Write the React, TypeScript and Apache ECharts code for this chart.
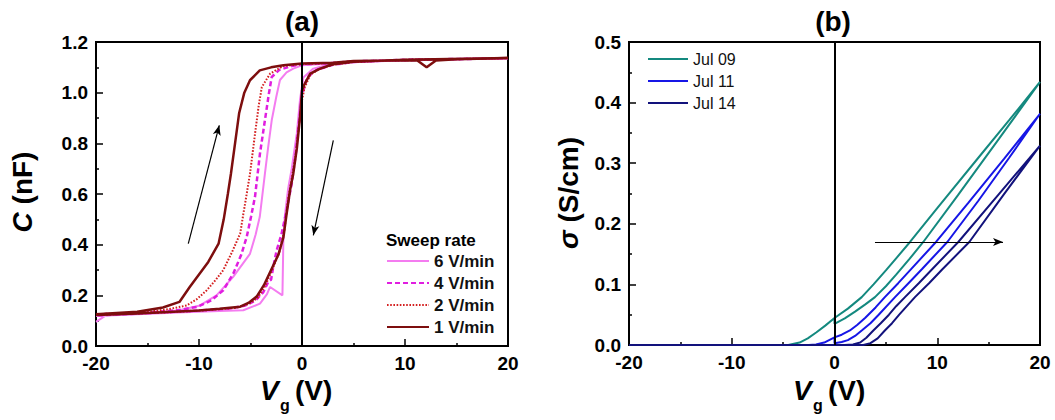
import React, { useEffect, useRef } from "react";
import * as echarts from "echarts";

const FONT = "'Liberation Sans', Arial, Helvetica, sans-serif";

// ---------- Panel (a): capacitance hysteresis ----------
const rateNames = ["6 V/min", "4 V/min", "2 V/min", "1 V/min"];
const rateColors = ["#f47cf0", "#e01ee0", "#d42020", "#7d0e0e"];

const rate6Up = [[-20,0.095],[-19,0.122],[-15,0.13],[-12,0.14],[-9.9,0.16],[-8.3,0.2],[-6.7,0.272],[-5.05,0.364],[-4.5,0.44],[-4.1,0.51],[-3.6,0.68],[-3.3,0.78],[-2.94,0.891],[-2.5,0.983],[-2.14,1.05],[-1.5,1.08],[-0.85,1.095],[0,1.108],[3,1.116],[5,1.123],[10,1.128],[15,1.132],[20,1.136]];
const rate6Down = [[20,1.135],[10,1.128],[5,1.12],[2.5,1.11],[1.1,1.095],[0.13,1.06],[-0.2,0.97],[-0.5,0.84],[-1.0,0.7],[-1.35,0.62],[-1.65,0.52],[-1.8,0.44],[-1.9,0.2],[-3.1,0.233],[-3.4,0.205],[-4.08,0.167],[-5.7,0.141],[-8,0.138],[-12,0.132],[-16,0.125],[-20,0.118]];

const rate4Up = [[-20,0.125],[-15,0.132],[-12,0.142],[-10.2,0.154],[-8.8,0.18],[-7.64,0.22],[-6.67,0.286],[-5.9,0.36],[-5.37,0.43],[-4.95,0.51],[-4.56,0.59],[-4.08,0.76],[-3.6,0.891],[-3.2,1.0],[-2.94,1.062],[-2.2,1.09],[-1,1.105],[0,1.112],[3,1.117],[5,1.124],[10,1.128],[15,1.132],[20,1.136]];
const rate4Down = [[20,1.135],[10,1.13],[5,1.121],[3,1.11],[1.4,1.09],[0.5,1.06],[0,0.99],[-0.3,0.88],[-0.6,0.76],[-1.0,0.64],[-1.49,0.536],[-2.0,0.44],[-2.46,0.378],[-2.8,0.31],[-3.0,0.262],[-3.25,0.255],[-3.75,0.213],[-4.5,0.18],[-5.5,0.16],[-7,0.148],[-10,0.14],[-15,0.13],[-20,0.12]];

const rate2Up = [[-20,0.125],[-15,0.135],[-13,0.145],[-11.2,0.16],[-10.2,0.185],[-9.25,0.22],[-8.4,0.26],[-7.64,0.3],[-6.8,0.37],[-6.0,0.444],[-5.7,0.52],[-5.37,0.6],[-5.05,0.68],[-4.8,0.76],[-4.56,0.838],[-4.2,0.95],[-3.9,1.022],[-3.1,1.075],[-1.84,1.105],[0,1.113],[3,1.117],[5,1.124],[10,1.128],[15,1.132],[20,1.136]];
const rate2Down = [[20,1.135],[10,1.13],[5,1.121],[3,1.11],[1.6,1.092],[0.8,1.07],[0.25,1.02],[0,0.97],[-0.3,0.87],[-0.6,0.76],[-1.0,0.66],[-1.35,0.58],[-1.7,0.46],[-2.2,0.37],[-2.9,0.3],[-3.6,0.235],[-4.3,0.19],[-5.2,0.165],[-6.5,0.15],[-9,0.142],[-13,0.133],[-20,0.122]];

const rate1Up = [[-20,0.125],[-16,0.135],[-13.5,0.152],[-11.9,0.174],[-10.9,0.233],[-9.1,0.332],[-8.1,0.404],[-7.6,0.5],[-7.2,0.6],[-6.9,0.68],[-6.5,0.8],[-6.1,0.92],[-5.6,1.0],[-5.05,1.049],[-4.1,1.088],[-3,1.1],[-1.8,1.108],[0,1.115],[3,1.118],[5,1.125],[10,1.128],[11.2,1.127],[12.1,1.1],[13,1.127],[15,1.132],[20,1.137]];
const rate1Down = [[20,1.135],[10,1.13],[5,1.122],[3,1.112],[1.75,1.095],[0.8,1.075],[0.2,1.03],[0,1.009],[-0.2,0.9],[-0.5,0.78],[-0.85,0.68],[-1.16,0.615],[-1.5,0.52],[-1.8,0.43],[-2.3,0.36],[-3.0,0.3],[-3.7,0.24],[-4.4,0.195],[-5.2,0.17],[-6,0.155],[-8,0.147],[-10,0.14],[-13,0.134],[-16,0.128],[-20,0.122]];

const rateUp = [rate6Up, rate4Up, rate2Up, rate1Up];
const rateDown = [rate6Down, rate4Down, rate2Down, rate1Down];
const rateDash: any[] = ["solid", [5, 3], [1.6, 1.6], "solid"];
const rateWidth = [2, 2.5, 2, 2.5];

const xTicksA = { min: -20, max: 20, interval: 10 };
const yTicksA = { min: 0, max: 1.2, interval: 0.2 };

// ---------- Panel (b): conductivity ----------
const dateNames = ["Jul 09", "Jul 11", "Jul 14"];
const dateColors = ["#14897f", "#1616e6", "#12127c"];

const jul09Up = [[0,0.035],[1,0.044],[2,0.055],[3,0.067],[3.94,0.079],[5,0.097],[6,0.116],[7.3,0.142],[8.64,0.17],[12,0.247],[16,0.34],[20,0.434]];
const jul09Down = [[20,0.434],[17,0.371],[14,0.309],[10,0.226],[7.35,0.17],[6,0.143],[5,0.123],[3.8,0.1],[2.65,0.079],[1.3,0.06],[0,0.0446],[-0.9,0.032],[-1.75,0.021],[-2.6,0.011],[-3.4,0.004],[-4.5,0],[-20,0]];
const jul11Up = [[0,0.003],[0.7,0.005],[1.3,0.008],[2,0.015],[2.65,0.024],[3.5,0.036],[4.3,0.05],[5.89,0.079],[7.2,0.102],[8.5,0.125],[10.98,0.17],[14,0.238],[17,0.309],[20,0.3816]];
const jul11Down = [[20,0.3816],[16.5,0.307],[13,0.234],[9.88,0.17],[7.5,0.126],[6.2,0.102],[4.9,0.079],[4,0.062],[3,0.045],[2.2,0.033],[1.5,0.024],[0.7,0.017],[0,0.0126],[-1,0.004],[-1.8,0.001],[-2.5,0],[-20,0]];
const jul14Up = [[0,0],[2.8,0],[3.5,0.003],[4.2,0.011],[4.9,0.024],[5.6,0.036],[6.3,0.05],[7.83,0.079],[9.2,0.102],[10.5,0.125],[13.12,0.17],[16.5,0.249],[20,0.329]];
const jul14Down = [[20,0.329],[16,0.249],[12.05,0.17],[9.5,0.125],[8.2,0.102],[6.86,0.079],[6,0.064],[5.3,0.05],[4.5,0.036],[3.78,0.024],[3.1,0.012],[2.5,0.004],[1.8,0.001],[1,0],[-20,0]];

const dateUp = [jul09Up, jul11Up, jul14Up];
const dateDown = [jul09Down, jul11Down, jul14Down];

const xTicksB = { min: -20, max: 20, interval: 10 };
const yTicksB = { min: 0, max: 0.5, interval: 0.1 };

// annotation arrows (data coordinates)
const arrowsA = [
  [[-11.04, 0.404], [-8.03, 0.871]],
  [[3.04, 0.812], [1.1, 0.437]],
];
const arrowsB = [[[3.94, 0.17], [16.4, 0.17]]];

function xAxisCfg(gridIndex: number, t: any) {
  return {
    type: "value",
    gridIndex,
    min: t.min,
    max: t.max,
    interval: t.interval,
    axisLine: { show: true, onZero: false, lineStyle: { color: "#000", width: 2 } },
    axisTick: { show: true, inside: true, length: 7, lineStyle: { color: "#000", width: 1.5 } },
    minorTick: { show: true, splitNumber: 2, length: 3, lineStyle: { color: "#000", width: 1.5 } },
    splitLine: { show: false },
    minorSplitLine: { show: false },
    axisLabel: {
      show: true,
      margin: 8,
      color: "#000",
      fontFamily: FONT,
      fontWeight: "bold",
      fontSize: 19,
      showMinLabel: true,
      showMaxLabel: true,
      hideOverlap: false,
    },
  };
}

function yAxisCfg(gridIndex: number, t: any) {
  return {
    type: "value",
    gridIndex,
    min: t.min,
    max: t.max,
    interval: t.interval,
    axisLine: { show: true, onZero: false, lineStyle: { color: "#000", width: 2 } },
    axisTick: { show: true, inside: true, length: 7, lineStyle: { color: "#000", width: 1.5 } },
    minorTick: { show: true, splitNumber: 2, length: 3, lineStyle: { color: "#000", width: 1.5 } },
    splitLine: { show: false },
    minorSplitLine: { show: false },
    axisLabel: {
      show: true,
      margin: 8,
      color: "#000",
      fontFamily: FONT,
      fontWeight: "bold",
      fontSize: 19,
      formatter: (v: number) => v.toFixed(1),
      showMinLabel: true,
      showMaxLabel: true,
    },
  };
}

function arrowLine(xi: number, arrows: number[][][]) {
  return {
    type: "line",
    xAxisIndex: xi,
    yAxisIndex: xi,
    data: [],
    silent: true,
    markLine: {
      silent: true,
      animation: false,
      symbol: ["none", "arrow"],
      symbolSize: [6, 10],
      label: { show: false },
      lineStyle: { color: "#000", width: 1.2, type: "solid" },
      emphasis: { disabled: true },
      data: arrows.map((a) => [{ coord: a[0] }, { coord: a[1] }]),
    },
  };
}

function zeroLine(xi: number) {
  return {
    type: "line",
    xAxisIndex: xi,
    yAxisIndex: xi,
    data: [],
    silent: true,
    markLine: {
      silent: true,
      animation: false,
      symbol: ["none", "none"],
      label: { show: false },
      lineStyle: { color: "#000", width: 2, type: "solid" },
      emphasis: { disabled: true },
      data: [{ xAxis: 0 }],
    },
  };
}

function txt(text: string, x: number, y: number, size: number, opts: any = {}) {
  return {
    type: "text",
    x,
    y,
    rotation: opts.rotation || 0,
    silent: true,
    style: {
      text,
      fill: "#000",
      fontFamily: FONT,
      fontWeight: opts.weight || "bold",
      fontStyle: opts.italic ? "italic" : "normal",
      fontSize: size,
      align: opts.align || "left",
      verticalAlign: "middle",
      rich: opts.rich,
    },
  };
}

function xTitle(left: number) {
  return [
    txt("V", left, 390, 28, { italic: true }),
    txt("g", left + 20, 405, 16),
    txt("(V)", left + 35, 390, 28),
  ];
}

const hiddenSymbol = { color: "rgba(0,0,0,0)", borderColor: "rgba(0,0,0,0)", borderWidth: 0, opacity: 0 };

export default function App() {
  const ref = useRef<HTMLDivElement>(null);

  useEffect(() => {
    document.body.style.margin = "0";
    if (!ref.current) return;
    const chart = echarts.init(ref.current, undefined, { renderer: "svg" });

    const seriesA = rateNames.map((name, i) => ({
      type: "line",
      name,
      xAxisIndex: 0,
      yAxisIndex: 0,
      data: [...rateUp[i], ...rateDown[i]],
      symbol: "none",
      showSymbol: false,
      smooth: false,
      lineStyle: { color: rateColors[i], width: rateWidth[i], type: rateDash[i] },
      itemStyle: { color: rateColors[i] },
      silent: true,
    }));

    const seriesB = dateNames.map((name, i) => {
      const a0 = dateDown[i].find((p) => p[0] === 0);
      const data = [...(a0 ? [a0] : []), ...dateUp[i], ...dateDown[i]];
      return {
        type: "line",
        name,
        xAxisIndex: 1,
        yAxisIndex: 1,
        data,
        symbol: "none",
        showSymbol: false,
        smooth: false,
        lineStyle: { color: dateColors[i], width: 2, type: "solid" },
        itemStyle: { color: dateColors[i] },
        silent: true,
      };
    });

    const option: any = {
      animation: false,
      backgroundColor: "#fff",
      textStyle: { fontFamily: FONT },
      grid: [
        { left: 96, top: 42, width: 412, height: 304, show: true, borderColor: "#000", borderWidth: 2, backgroundColor: "transparent" },
        { left: 629, top: 42, width: 411, height: 303, show: true, borderColor: "#000", borderWidth: 2, backgroundColor: "transparent" },
      ],
      xAxis: [xAxisCfg(0, xTicksA), xAxisCfg(1, xTicksB)],
      yAxis: [yAxisCfg(0, yTicksA), yAxisCfg(1, yTicksB)],
      legend: [
        {
          data: rateNames,
          orient: "vertical",
          left: 386,
          top: 251,
          padding: 0,
          itemWidth: 42,
          itemHeight: 14,
          itemGap: 2,
          selectedMode: false,
          itemStyle: hiddenSymbol,
          textStyle: { fontFamily: FONT, fontWeight: "bold", fontSize: 17, color: "#111", lineHeight: 20 },
        },
        {
          data: dateNames,
          orient: "vertical",
          left: 647,
          top: 49,
          padding: 0,
          itemWidth: 40,
          itemHeight: 14,
          itemGap: 2,
          selectedMode: false,
          itemStyle: hiddenSymbol,
          textStyle: { fontFamily: FONT, fontWeight: "normal", fontSize: 16, color: "#111", lineHeight: 20 },
        },
      ],
      graphic: [
        txt("(a)", 302, 21, 28, { align: "center" }),
        txt("(b)", 833, 21, 28, { align: "center" }),
        txt("Sweep rate", 386, 240, 17),
        ...xTitle(260),
        ...xTitle(793),
        txt("{i|C} (nF)", 22, 192, 28, {
          align: "center",
          rotation: Math.PI / 2,
          rich: { i: { fontStyle: "italic", fontWeight: "bold", fontSize: 28, fontFamily: FONT, fill: "#000" } },
        }),
        txt("{i|σ} (S/cm)", 568, 193, 28, {
          align: "center",
          rotation: Math.PI / 2,
          rich: { i: { fontStyle: "italic", fontWeight: "bold", fontSize: 28, fontFamily: FONT, fill: "#000" } },
        }),
      ],
      series: [
        zeroLine(0),
        zeroLine(1),
        ...seriesA,
        ...seriesB,
        arrowLine(0, arrowsA),
        arrowLine(1, arrowsB),
      ],
    };

    chart.setOption(option);
    return () => chart.dispose();
  }, []);

  return <div ref={ref} style={{ width: 1055, height: 420 }} />;
}
